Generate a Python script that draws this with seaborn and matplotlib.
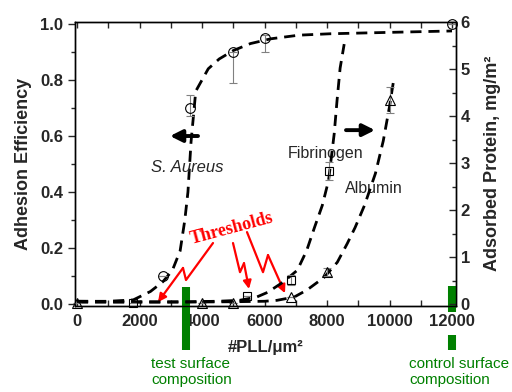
import numpy as np
import matplotlib
matplotlib.use("Agg")
import matplotlib.pyplot as plt
import seaborn as sns

# --- data ---
# S. aureus adhesion efficiency (left axis)
sa_x = [2750, 3600, 5000, 6000, 12000]
sa_y = [0.10, 0.70, 0.90, 0.95, 1.00]
sa_err_lo = [0.0, 0.03, 0.11, 0.05, 0.0]
sa_err_hi = [0.0, 0.045, 0.0, 0.01, 0.0]
sa_fit_x = [0, 1000, 1800, 2350, 2750, 3050, 3300, 3450, 3550, 3650, 3800,
            4200, 4550, 5000, 5550, 6200, 7100, 8100, 10000, 12000]
sa_fit_y = [0.01, 0.01, 0.015, 0.045, 0.08, 0.12, 0.19, 0.30, 0.40, 0.58, 0.76,
            0.84, 0.875, 0.905, 0.93, 0.947, 0.96, 0.965, 0.97, 0.975]

# fibrinogen adsorption (right axis)
fib_x = [1800, 5450, 6850, 8050]
fib_y = [0.02, 0.18, 0.51, 2.83]
fib_err = [0.0, 0.0, 0.1, 0.2]
fib_fit_x = [0, 2000, 3500, 4500, 5200, 5750, 6100, 6600, 7050, 7350, 7600,
             7850, 8050, 8230, 8320, 8420, 8550]
fib_fit_y = [0.06, 0.05, 0.05, 0.06, 0.08, 0.15, 0.25, 0.47, 0.72, 1.14, 1.63,
             2.1, 2.63, 3.62, 4.32, 5.02, 5.53]

# albumin adsorption (right axis)
alb_x = [0, 4000, 5000, 6850, 8000, 10000]
alb_y = [0.02, 0.02, 0.02, 0.15, 0.68, 4.34]
alb_err = [0.0, 0.0, 0.0, 0.0, 0.08, 0.28]
alb_fit_x = [0, 3000, 5000, 6000, 6400, 6950, 7360, 7910, 8330, 8650, 8900,
             9200, 9550, 9800, 10000, 10130]
alb_fit_y = [0.04, 0.04, 0.05, 0.06, 0.08, 0.15, 0.30, 0.57, 0.89, 1.29, 1.63,
             2.1, 2.78, 3.47, 4.2, 4.75]

test_surface = 3500
control_surface = 12000

sns.set_style("ticks")
plt.rcParams["font.family"] = ["Liberation Sans", "DejaVu Sans"]

fig = plt.figure(figsize=(5.12, 3.92), dpi=100)
ax = fig.add_axes([75 / 512, 1 - 305.5 / 392, 381 / 512, 283.5 / 392])
ax2 = ax.twinx()

dash = (0, (4, 2.5))
sns.lineplot(x=sa_fit_x, y=sa_fit_y, ax=ax, color="black", lw=2, linestyle=dash, sort=False)
sns.lineplot(x=fib_fit_x, y=fib_fit_y, ax=ax2, color="black", lw=2, linestyle=dash, sort=False)
sns.lineplot(x=alb_fit_x, y=alb_fit_y, ax=ax2, color="black", lw=2, linestyle=dash, sort=False)

ebkw = dict(mfc="none", mec="black", mew=0.8, ms=7, ecolor="0.5", elinewidth=0.8,
            capsize=3, capthick=0.8, zorder=4, clip_on=False)
ax.errorbar(sa_x, sa_y, yerr=[sa_err_lo, sa_err_hi], fmt="o", **ebkw)
ax2.errorbar(fib_x, fib_y, yerr=fib_err, fmt="s", **{**ebkw, "ms": 6})
ax2.errorbar(alb_x, alb_y, yerr=alb_err, fmt="^", **ebkw)

ax.set_xlim(-64, 12128)
ax.set_ylim(-0.005, 1.007)
ax2.set_ylim(-0.03, 6.0)

ax.set_xticks(np.arange(0, 12001, 2000))
ax.set_xticks(np.arange(0, 12001, 1000), minor=True)
ax.set_yticks(np.arange(0, 1.01, 0.2))
ax.set_yticks(np.arange(0, 1.01, 0.1), minor=True)
ax.set_yticklabels([f"{v:.1f}" for v in np.arange(0, 1.01, 0.2)])
ax2.set_yticks(range(0, 7))
ax2.set_yticks(np.arange(0, 6.01, 0.5), minor=True)

ax.tick_params(axis="x", which="both", direction="in", top=True, bottom=True,
               length=4, width=1, labelsize=12, pad=6)
ax.tick_params(axis="y", which="major", direction="out", length=5, width=1, labelsize=12)
ax.tick_params(axis="y", which="minor", direction="out", length=3, width=1)
ax2.tick_params(axis="y", which="major", direction="in", length=5, width=1, labelsize=12)
ax2.tick_params(axis="y", which="minor", direction="in", length=3, width=1)
for lbl in ax.get_xticklabels() + ax.get_yticklabels() + ax2.get_yticklabels():
    lbl.set_fontweight("bold")
for a in (ax, ax2):
    for s in a.spines.values():
        s.set_linewidth(1)
        s.set_color("black")

ax.set_xlabel("#PLL/μm²", fontsize=12, fontweight="bold", labelpad=8)
ax.set_ylabel("Adhesion Efficiency", fontsize=13, fontweight="bold", labelpad=6)
ax2.set_ylabel("Adsorbed Protein, mg/m²", fontsize=13, fontweight="bold", labelpad=10)

# text labels
ax.text(3520, 0.489, "S. Aureus", fontsize=12, style="italic", ha="center", va="center")
ax.text(7968, 0.539, "Fibrinogen", fontsize=11.5, ha="center", va="center")
ax.text(9504, 0.414, "Albumin", fontsize=11.5, ha="center", va="center")

# black arrows pointing at the axes
ax.annotate("", xy=(2976, 0.6), xytext=(3872, 0.6),
            arrowprops=dict(arrowstyle="-|>", color="black", lw=2.8, mutation_scale=18,
                            shrinkA=0, shrinkB=0))
ax.annotate("", xy=(9536, 0.621), xytext=(8608, 0.621),
            arrowprops=dict(arrowstyle="-|>", color="black", lw=2.8, mutation_scale=18,
                            shrinkA=0, shrinkB=0))

# red threshold callouts
ax.text(4960, 0.268, "Thresholds", color="red", fontsize=13, fontweight="bold",
        family=["Liberation Serif", "DejaVu Serif"], rotation=15,
        ha="center", va="center")
red_paths = [
    [(4352, 0.218), (3488, 0.086), (3392, 0.129), (2592, 0.007)],
    [(4992, 0.218), (5216, 0.114), (5344, 0.146), (5504, 0.054)],
    [(5440, 0.257), (5952, 0.114), (6112, 0.175), (6656, 0.039)],
]
for path in red_paths:
    px, py = zip(*path)
    ax.plot(px[:-1], py[:-1], color="red", lw=1.6, solid_joinstyle="round")
    ax.annotate("", xy=path[-1], xytext=path[-2],
                arrowprops=dict(arrowstyle="-|>", color="red", lw=1.6, mutation_scale=12,
                                shrinkA=0, shrinkB=0))

# green surface-composition markers
bar_kw = dict(color="green", lw=5.8, clip_on=False, zorder=5, solid_capstyle="butt")
ax.axvline(test_surface, ymin=-0.157, ymax=0.065, **bar_kw)
ax.axvline(control_surface, ymin=-0.023, ymax=0.069, **bar_kw)
ax.axvline(control_surface, ymin=-0.157, ymax=-0.104, **bar_kw)
fig.text(151 / 512, 1 - 357 / 392, "test surface\ncomposition", color="green",
         fontsize=11, ha="left", va="top", linespacing=1.2)
fig.text(409 / 512, 1 - 357 / 392, "control surface\ncomposition", color="green",
         fontsize=11, ha="left", va="top", linespacing=1.2)

fig.savefig("out.png", dpi=100)
